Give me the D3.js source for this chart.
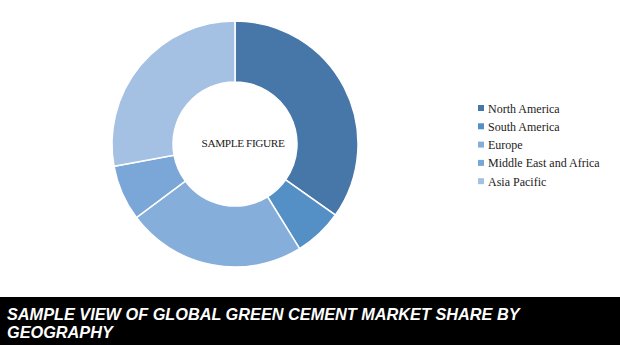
<!DOCTYPE html>
<html>
<head>
<meta charset="utf-8">
<script src="https://cdn.jsdelivr.net/npm/d3@7"></script>
<style>
  body { margin: 0; background: #fff; }
  svg { display: block; }
</style>
</head>
<body>
<svg id="chart"></svg>
<script>
const regions = ["North America", "South America", "Europe", "Middle East and Africa", "Asia Pacific"];
const shares = [34.8, 6.4, 23.6, 7.3, 27.9];
const colors = ["#4677a8", "#548fc6", "#85aedb", "#7aa7d8", "#a4c0e3"];
const titleLines = ["SAMPLE VIEW OF GLOBAL GREEN CEMENT MARKET SHARE BY", "GEOGRAPHY"];

const width = 620;
const height = 345;
const cx = 235;
const cy = 144;
const outerR = 123;
const innerR = 62;

const svg = d3.select("#chart").attr("width", width).attr("height", height);

const data = regions.map((r, i) => ({ region: r, value: shares[i] }));

const pie = d3.pie().sort(null).value((d) => d.value);
const arc = d3.arc().innerRadius(innerR).outerRadius(outerR);
const color = d3.scaleOrdinal().domain(regions).range(colors);

const g = svg.append("g").attr("transform", "translate(" + cx + "," + cy + ")");

g.selectAll("path")
  .data(pie(data))
  .enter()
  .append("path")
  .attr("d", arc)
  .attr("fill", (d) => color(d.data.region))
  .attr("stroke", "#fff")
  .attr("stroke-width", 1.5);

g.append("text")
  .attr("x", 8)
  .attr("y", 3)
  .attr("text-anchor", "middle")
  .attr("font-family", "Liberation Serif, serif")
  .attr("font-size", 11.3)
  .attr("letter-spacing", -0.4)
  .attr("fill", "#222")
  .text("SAMPLE FIGURE");

// legend
const legend = svg.append("g").attr("transform", "translate(478, 108)");
const item = legend.selectAll("g")
  .data(regions)
  .enter()
  .append("g")
  .attr("transform", (d, i) => "translate(0," + i * 18.3 + ")");

item.append("rect")
  .attr("x", 0)
  .attr("y", -3)
  .attr("width", 6)
  .attr("height", 6)
  .attr("fill", (d) => color(d));

item.append("text")
  .attr("x", 10)
  .attr("y", 4.5)
  .attr("font-family", "Liberation Serif, serif")
  .attr("font-size", 12)
  .attr("fill", "#222")
  .text((d) => d);

// title banner
svg.append("rect")
  .attr("x", 0)
  .attr("y", 297)
  .attr("width", width)
  .attr("height", height - 297)
  .attr("fill", "#000");

svg.append("text")
  .attr("font-family", "Liberation Sans, Arial, sans-serif")
  .attr("font-size", 16.3)
  .attr("font-weight", "bold")
  .attr("font-style", "italic")
  .attr("fill", "#fff")
  .selectAll("tspan")
  .data(titleLines)
  .enter()
  .append("tspan")
  .attr("x", 7)
  .attr("y", (d, i) => 320 + i * 18)
  .text((d) => d);
</script>
</body>
</html>
